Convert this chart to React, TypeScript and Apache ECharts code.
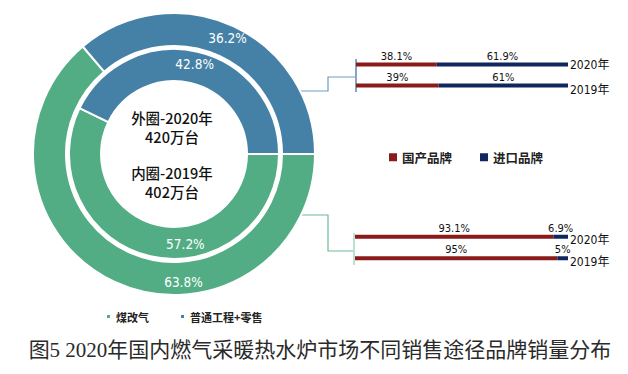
import React, { useEffect, useRef } from "react";
import * as echarts from "echarts";

const pieNames = ["煤改气", "普通工程+零售"];
const outer2020 = [63.8, 36.2];
const inner2019 = [57.2, 42.8];
const pieColors = ["#52ad84", "#4581a6"];

const years = ["2020年", "2019年"];
const brandNames = ["国产品牌", "进口品牌"];
const brandColors = ["#8b1a1a", "#0f265e"];
const retailDomestic = [38.1, 39];
const retailImport = [61.9, 61];
const coalDomestic = [93.1, 95];
const coalImport = [6.9, 5];

const centerLines = ["外圈-2020年", "420万台", "内圈-2019年", "402万台"];
const titleText = "图5 2020年国内燃气采暖热水炉市场不同销售途径品牌销量分布";

const CJK = "'Noto Sans CJK SC', sans-serif";
const NARROW = "'Liberation Sans Narrow', 'DejaVu Sans Condensed', 'Noto Sans CJK SC', sans-serif";

export default function App() {
  const ref = useRef<HTMLDivElement>(null);
  useEffect(() => {
    if (!ref.current) return;
    const chart = echarts.init(ref.current, null, { renderer: "svg" });

    const pieLabel = {
      show: true,
      position: "inside",
      formatter: "{c}%",
      color: "#fff",
      fontSize: 13.5,
      fontFamily: NARROW,
    };

    const barSeries = (name: string, data: number[], idx: number, color: string, stack: string) => ({
      type: "bar",
      name,
      stack,
      xAxisIndex: idx,
      yAxisIndex: idx,
      data,
      barWidth: 4,
      itemStyle: { color },
      label: {
        show: true,
        position: "top",
        distance: 1,
        formatter: "{c}%",
        color: "#111",
        fontSize: 11,
        fontFamily: NARROW,
      },
    });

    const yAx = (gridIndex: number, padA: number, padB: number) => ({
      gridIndex,
      type: "category",
      data: years,
      inverse: true,
      position: "right",
      axisLine: { show: false },
      axisTick: { show: false },
      axisLabel: {
        margin: 2,
        formatter: (v: string, i: number) => (i === 0 ? `{a|${v}}` : `{b|${v}}`),
        rich: {
          a: { fontSize: 12, color: "#111", fontFamily: NARROW, padding: [padA, 0, 0, 0] },
          b: { fontSize: 12, color: "#111", fontFamily: NARROW, padding: [padB, 0, 0, 0] },
        },
      },
    });

    const option: any = {
      animation: false,
      title: {
        text: titleText,
        left: 320,
        top: 339,
        padding: 0,
        textAlign: "center",
        textStyle: {
          fontSize: 21,
          fontWeight: "normal",
          color: "#2a2a2a",
          fontFamily: "'Liberation Serif', 'Noto Sans CJK SC', serif",
        },
      },
      color: pieColors,
      legend: [
        {
          data: pieNames,
          left: 100,
          top: 306,
          icon: "rect",
          itemWidth: 5,
          itemHeight: 5,
          itemGap: 30,
          selectedMode: false,
          textStyle: { fontSize: 11, fontWeight: "bold", color: "#222", fontFamily: CJK },
        },
        {
          data: brandNames,
          left: 384,
          top: 146,
          icon: "rect",
          itemWidth: 8,
          itemHeight: 8,
          itemGap: 28,
          selectedMode: false,
          textStyle: { fontSize: 12.5, fontWeight: "bold", color: "#222", fontFamily: CJK },
        },
      ],
      grid: [
        { left: 356, width: 212, top: 54, height: 42 },
        { left: 355, width: 213, top: 226, height: 43 },
      ],
      xAxis: [
        { gridIndex: 0, type: "value", min: 0, max: 100, show: false },
        { gridIndex: 1, type: "value", min: 0, max: 100, show: false },
      ],
      yAxis: [yAx(0, 0, 9), yAx(1, 6, 7)],
      series: [
        {
          type: "pie",
          name: "外圈",
          center: [174, 154],
          radius: [108, 141],
          startAngle: 0,
          clockwise: true,
          data: pieNames.map((n, i) => ({ name: n, value: outer2020[i] })),
          itemStyle: { borderColor: "#fff", borderWidth: 2 },
          label: pieLabel,
          labelLine: { show: false },
          labelLayout: (p: any) => (p.dataIndex === 0 ? { dx: 63, dy: 12 } : {}),
          emphasis: { disabled: true },
        },
        {
          type: "pie",
          name: "内圈",
          center: [174, 154],
          radius: [73, 105],
          startAngle: 0,
          clockwise: true,
          data: pieNames.map((n, i) => ({ name: n, value: inner2019[i] })),
          itemStyle: { borderColor: "#fff", borderWidth: 2 },
          label: pieLabel,
          labelLine: { show: false },
          labelLayout: (p: any) => (p.dataIndex === 0 ? { dx: 32, dy: 0 } : {}),
          emphasis: { disabled: true },
        },
        barSeries(brandNames[0], retailDomestic, 0, brandColors[0], "retail"),
        barSeries(brandNames[1], retailImport, 0, brandColors[1], "retail"),
        barSeries(brandNames[0], coalDomestic, 1, brandColors[0], "coal"),
        barSeries(brandNames[1], coalImport, 1, brandColors[1], "coal"),
      ],
      graphic: [
        ...centerLines.map((t, i) => ({
          type: "text",
          x: 172,
          y: [117, 136, 172, 191][i],
          style: {
            text: t,
            fill: "#111",
            fontSize: 14.5,
            fontWeight: 500,
            fontFamily: CJK,
            textAlign: "center",
            textVerticalAlign: "middle",
          },
        })),
        {
          type: "polyline",
          shape: { points: [[300, 91], [328, 91], [328, 77], [355, 77]] },
          style: { stroke: "#6f9dc2", lineWidth: 1.2, fill: null },
        },
        {
          type: "line",
          shape: { x1: 356, y1: 59, x2: 356, y2: 92 },
          style: { stroke: "#5a89b0", lineWidth: 1.5 },
        },
        {
          type: "polyline",
          shape: { points: [[302, 215], [328, 215], [328, 251], [353, 251]] },
          style: { stroke: "#6dbb96", lineWidth: 1.2, fill: null },
        },
        {
          type: "line",
          shape: { x1: 354, y1: 233, x2: 354, y2: 265 },
          style: { stroke: "#a9d8c1", lineWidth: 1.5 },
        },
      ],
    };
    chart.setOption(option);
    return () => chart.dispose();
  }, []);

  return (
    <div
      ref={ref}
      style={{ position: "fixed", left: 0, top: 0, width: 628, height: 374, background: "#fff" }}
    />
  );
}
